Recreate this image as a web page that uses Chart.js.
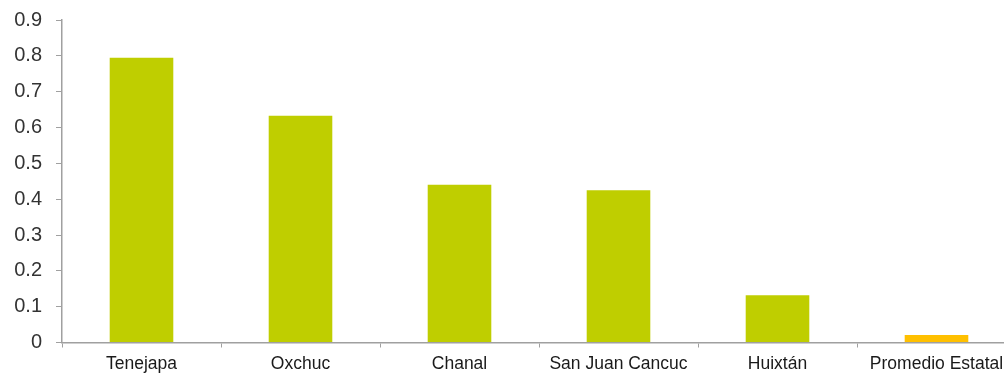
<!DOCTYPE html>
<html>
<head>
<meta charset="utf-8">
<script src="https://cdn.jsdelivr.net/npm/chart.js@4/dist/chart.umd.min.js"></script>
<style>
    html, body { margin: 0; padding: 0; background: #fff; overflow: hidden; }
    #wrap { position: relative; width: 1016px; height: 374px; }
</style>
</head>
<body>
<div id="wrap"><canvas id="chart"></canvas></div>
<script>
// Chart data
var municipios = ["Tenejapa", "Oxchuc", "Chanal", "San Juan Cancuc", "Huixtán", "Promedio Estatal"];
var valores = [0.795, 0.633, 0.44, 0.425, 0.132, 0.021];
var esPromedio = [false, false, false, false, false, true];
var yTicks = [0, 0.1, 0.2, 0.3, 0.4, 0.5, 0.6, 0.7, 0.8, 0.9];

var verde = "#bfce00";
var naranja = "#ffc000";
var gris = "#a0a0a0";

var colores = esPromedio.map(function (p) { return p ? naranja : verde; });

var ctx = document.getElementById("chart");
var chart = new Chart(ctx, {
    type: "bar",
    data: {
        labels: municipios,
        datasets: [{
            data: valores,
            backgroundColor: colores,
            borderWidth: 0,
            categoryPercentage: 1.0,
            barPercentage: 0.4
        }]
    },
    options: {
        responsive: true,
        maintainAspectRatio: false,
        animation: false,
        layout: { padding: { top: 20, right: 0, left: 0, bottom: 0 } },
        plugins: {
            legend: { display: false },
            tooltip: { enabled: false }
        },
        scales: {
            x: {
                grid: {
                    drawOnChartArea: false,
                    drawTicks: true,
                    tickLength: 5,
                    color: gris,
                    offset: true
                },
                border: { display: true, color: gris, width: 1.5 },
                ticks: {
                    color: "#1a1a1a",
                    font: { family: "'Liberation Sans', Arial, Helvetica, sans-serif", size: 17.5 },
                    padding: 6,
                    maxRotation: 0,
                    autoSkip: false
                },
                afterFit: function (scale) { scale.height = 31.5; }
            },
            y: {
                min: 0,
                max: 0.9,
                afterBuildTicks: function (scale) {
                    scale.ticks = yTicks.map(function (v) { return { value: v }; });
                },
                grid: {
                    drawOnChartArea: false,
                    drawTicks: true,
                    tickLength: 6,
                    color: gris
                },
                border: { display: true, color: gris, width: 1.5 },
                ticks: {
                    color: "#333333",
                    font: { family: "'Liberation Sans', Arial, Helvetica, sans-serif", size: 20 },
                    padding: 14,
                    callback: function (v) { return String(Math.round(v * 10) / 10); }
                },
                afterFit: function (scale) {
                    scale.width = 62;
                    // let the layout padding alone decide the top edge
                    scale.paddingTop = 0;
                    scale.paddingBottom = 0;
                }
            }
        }
    }
});
</script>
</body>
</html>
